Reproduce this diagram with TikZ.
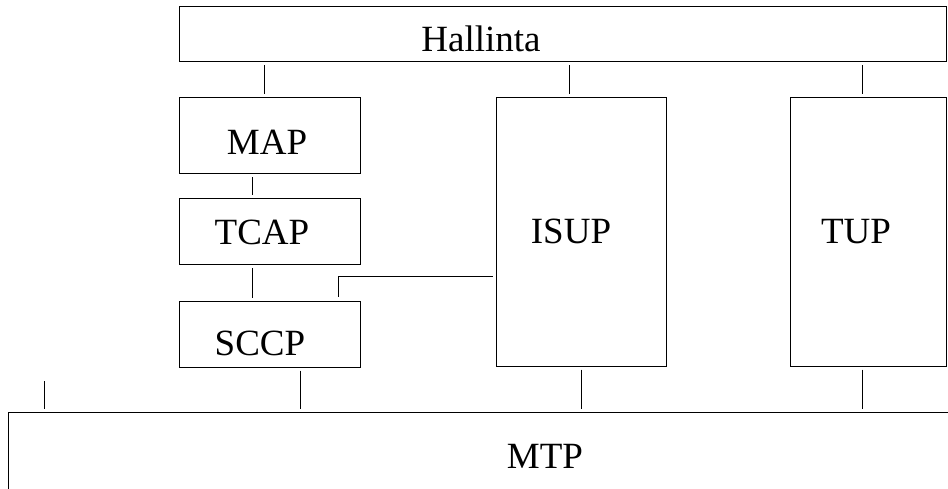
\documentclass[tikz,border=0pt]{standalone}
\usepackage{fontspec}
\setmainfont{Liberation Serif}
\begin{document}
\begin{tikzpicture}[x=1pt,y=1pt,
  box/.style={draw,line width=1pt,rectangle,inner sep=0pt},
  conn/.style={draw,line width=1pt,shorten <=3pt,shorten >=3pt},
  lbl/.style={anchor=base,inner sep=0pt,font=\fontsize{37}{44}\selectfont}]
\useasboundingbox (0,0) rectangle (948,488);
\clip (0,0) rectangle (948,488);
% boxes (y = 488 - image y)
\node[box,minimum width=767pt,minimum height=55pt] (hal) at (562.5,453.5) {};
\node[box,minimum width=181pt,minimum height=76pt] (map) at (269.5,352) {};
\node[box,minimum width=181pt,minimum height=66pt] (tcap) at (269.5,256) {};
\node[box,minimum width=181pt,minimum height=66pt] (sccp) at (269.5,154) {};
\node[box,minimum width=170pt,minimum height=268pt] (isup) at (581,256) {};
\node[box,minimum width=156pt,minimum height=268pt] (tup) at (868,256) {};
\node[box,minimum width=960pt,minimum height=100pt] (mtp) at (488,26) {};
% labels
\node[lbl] (thal) at (481,436) {Hallinta};
\node[lbl] (tmap) at (267,333) {MAP};
\node[lbl] (ttcap) at (262,243) {TCAP};
\node[lbl] (tsccp) at (260,133) {SCCP};
\node[lbl] (tisup) at (571,244) {ISUP};
\node[lbl] (ttup) at (856,244) {TUP};
\node[lbl] (tmtp) at (545,20) {MTP};
% connectors
\draw[conn] (hal.south -| 264,0) -- (map.north -| 264,0);
\draw[conn] (hal.south -| 569,0) -- (isup.north -| 569,0);
\draw[conn] (hal.south -| 862,0) -- (tup.north -| 862,0);
\draw[conn] (map.south -| 252,0) -- (tcap.north -| 252,0);
\draw[conn] (tcap.south -| 252,0) -- (sccp.north -| 252,0);
\coordinate (corner) at (338,211);
\draw[conn,shorten >=4pt] (isup.west |- corner) -- (corner) -- (sccp.north -| corner);
\draw[conn] (sccp.south -| 300,0) -- (mtp.north -| 300,0);
\draw[conn] (isup.south -| 581,0) -- (mtp.north -| 581,0);
\draw[conn] (tup.south -| 862,0) -- (mtp.north -| 862,0);
\coordinate (lt) at (44,107);
\draw[conn,shorten <=0pt] (lt) -- (mtp.north -| lt);
\end{tikzpicture}
\end{document}
